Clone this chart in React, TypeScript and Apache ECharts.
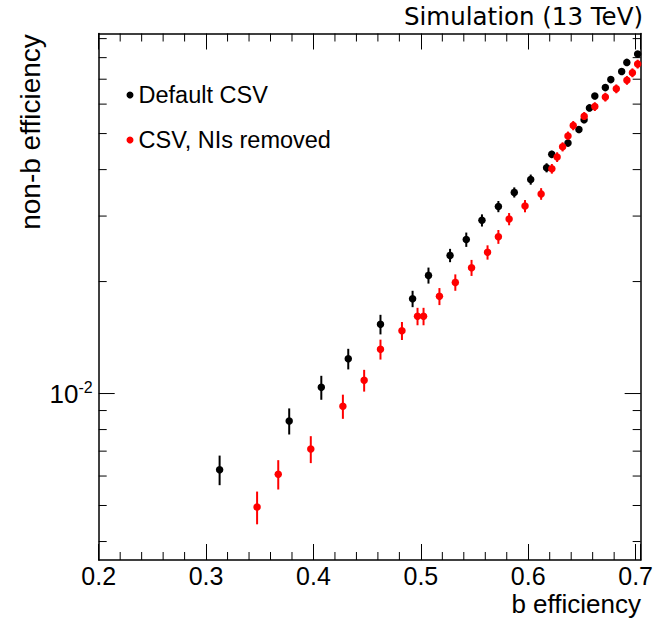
import React, { useEffect, useRef } from 'react';
import * as echarts from 'echarts';

const X_MIN = 0.2;
const X_MAX = 0.7047;
const Y_MIN = 0.003568;
const Y_MAX = 0.0929;

const defaultX = [0.3126, 0.3774, 0.4073, 0.4324, 0.4624, 0.4923, 0.5071, 0.5272, 0.5423, 0.5569, 0.5722, 0.587, 0.6023, 0.6171, 0.6219, 0.637, 0.6472, 0.652, 0.657, 0.662, 0.6718, 0.6769, 0.687, 0.6918, 0.7019];
const defaultY = [0.00624, 0.00844, 0.01039, 0.0124, 0.01535, 0.01798, 0.02078, 0.02352, 0.02594, 0.02922, 0.03183, 0.03474, 0.03761, 0.04046, 0.04396, 0.04714, 0.05126, 0.05445, 0.05861, 0.06306, 0.06646, 0.06983, 0.07346, 0.07768, 0.08177];
const defaultErr = [0.00057, 0.00068, 0.00077, 0.00079, 0.00093, 0.00091, 0.00103, 0.00097, 0.00115, 0.0011, 0.0011, 0.00109, 0.00118, 0.00114, 0.001, 0.001, 0.0011, 0.0011, 0.0012, 0.0012, 0.0013, 0.0013, 0.0014, 0.0014, 0.0015];

const removedX = [0.3475, 0.3672, 0.3975, 0.4274, 0.4472, 0.4624, 0.4824, 0.4969, 0.5025, 0.5173, 0.5321, 0.5472, 0.5621, 0.5722, 0.5822, 0.597, 0.612, 0.622, 0.6269, 0.632, 0.637, 0.6419, 0.6521, 0.662, 0.6718, 0.682, 0.6919, 0.697, 0.7019];
const removedY = [0.00495, 0.00607, 0.00709, 0.00924, 0.01085, 0.01315, 0.01475, 0.01613, 0.01613, 0.01825, 0.0199, 0.02179, 0.02397, 0.02639, 0.02945, 0.03192, 0.03442, 0.04021, 0.04323, 0.04606, 0.04922, 0.05253, 0.05563, 0.05909, 0.06266, 0.06597, 0.06953, 0.07286, 0.07688];
const removedErr = [0.0005, 0.00055, 0.00059, 0.00069, 0.00073, 0.00081, 0.00082, 0.00087, 0.00087, 0.00096, 0.00101, 0.00108, 0.00106, 0.00113, 0.00111, 0.00121, 0.00124, 0.0012, 0.0013, 0.0013, 0.0014, 0.0015, 0.0015, 0.0016, 0.0017, 0.0018, 0.0019, 0.002, 0.0021];

const xTickLabels = ['0.2', '0.3', '0.4', '0.5', '0.6', '0.7'];
const xMinorTicks = [0.22, 0.24, 0.26, 0.28, 0.32, 0.34, 0.36, 0.38, 0.42, 0.44, 0.46, 0.48, 0.52, 0.54, 0.56, 0.58, 0.62, 0.64, 0.66, 0.68];
const yMajorTicks = [0.01];
const yMinorTicks = [0.004, 0.005, 0.006, 0.007, 0.008, 0.009, 0.02, 0.03, 0.04, 0.05, 0.06, 0.07, 0.08, 0.09];

const seriesNames = ['Default CSV', 'CSV, NIs removed'];
const seriesColors = ['#000000', '#ff0000'];

const FONT = 'Liberation Sans';

function errorBarSeries(xs: number[], ys: number[], errs: number[], color: string) {
  return {
    type: 'custom',
    silent: true,
    z: 2,
    encode: { x: 0, y: [1, 2] },
    data: xs.map((x, i) => [x, ys[i] - errs[i], ys[i] + errs[i]]),
    renderItem: (params: any, api: any) => {
      const x = api.value(0);
      const p1 = api.coord([x, api.value(1)]);
      const p2 = api.coord([x, api.value(2)]);
      return {
        type: 'line',
        shape: { x1: p1[0], y1: p1[1], x2: p2[0], y2: p2[1] },
        style: { stroke: color, lineWidth: 2, opacity: 1 },
      };
    },
  };
}

function yTickSeries(ticks: number[], len: number) {
  return {
    type: 'custom',
    silent: true,
    z: 5,
    encode: { x: 0, y: 1 },
    data: ticks.map((v) => [X_MIN, v]),
    renderItem: (params: any, api: any) => {
      const v = api.value(1);
      const l = api.coord([X_MIN, v]);
      const r = api.coord([X_MAX, v]);
      return {
        type: 'group',
        children: [
          { type: 'line', shape: { x1: l[0], y1: l[1], x2: l[0] + len, y2: l[1] }, style: { stroke: '#000', lineWidth: 1 } },
          { type: 'line', shape: { x1: r[0] - len, y1: r[1], x2: r[0], y2: r[1] }, style: { stroke: '#000', lineWidth: 1 } },
        ],
      };
    },
  };
}

function xTickSeries(ticks: number[], len: number) {
  return {
    type: 'custom',
    silent: true,
    z: 5,
    encode: { x: 0, y: 1 },
    data: ticks.map((v) => [v, Y_MIN]),
    renderItem: (params: any, api: any) => {
      const v = api.value(0);
      const b = api.coord([v, Y_MIN]);
      const t = api.coord([v, Y_MAX]);
      return {
        type: 'group',
        children: [
          { type: 'line', shape: { x1: b[0], y1: b[1], x2: b[0], y2: b[1] - len }, style: { stroke: '#000', lineWidth: 1 } },
          { type: 'line', shape: { x1: t[0], y1: t[1], x2: t[0], y2: t[1] + len }, style: { stroke: '#000', lineWidth: 1 } },
        ],
      };
    },
  };
}

export default function App() {
  const ref = useRef<HTMLDivElement>(null);

  useEffect(() => {
    if (!ref.current) return;
    const chart = echarts.init(ref.current, null, { renderer: 'svg' });

    const axisLine = { show: true, onZero: false, lineStyle: { color: '#000', width: 1.5 } };
    const majorTick = { show: true, inside: true, length: 16, lineStyle: { color: '#000', width: 1 } };

    const xLabelFormatter = (v: number) => {
      const s = v.toFixed(1);
      return Math.abs(v * 10 - Math.round(v * 10)) < 1e-6 && xTickLabels.includes(s) ? s : '';
    };

    const yLabelFormatter = (v: number) => {
      const e = Math.log10(v);
      if (Math.abs(e - Math.round(e)) < 1e-6) return `{b|10}{s|${Math.round(e)}}`;
      return '';
    };

    chart.setOption({
      animation: false,
      backgroundColor: '#ffffff',
      grid: { left: 98.7, right: 12.7, top: 33.5, bottom: 59, containLabel: false },
      xAxis: [
        {
          type: 'value', position: 'bottom', min: X_MIN, max: X_MAX, interval: 0.1,
          axisLine, axisTick: majorTick, splitLine: { show: false },
          axisLabel: { show: true, formatter: xLabelFormatter, color: '#000', fontFamily: FONT, fontSize: 25, lineHeight: 22, margin: 5 },
        },
        {
          type: 'value', position: 'top', min: X_MIN, max: X_MAX, interval: 0.1,
          axisLine, axisTick: majorTick, splitLine: { show: false }, axisLabel: { show: false },
        },
      ],
      yAxis: [
        {
          type: 'log', logBase: 10, position: 'left', min: Y_MIN, max: Y_MAX,
          axisLine, axisTick: { show: false }, splitLine: { show: false }, minorTick: { show: false },
          axisLabel: {
            show: true, formatter: yLabelFormatter, margin: 6, color: '#000',
            rich: {
              b: { fontFamily: FONT, fontSize: 26, lineHeight: 28, color: '#000' },
              s: { fontFamily: FONT, fontSize: 16, lineHeight: 16, verticalAlign: 'top', color: '#000' },
            },
          },
        },
        {
          type: 'log', logBase: 10, position: 'right', min: Y_MIN, max: Y_MAX,
          axisLine, axisTick: { show: false }, splitLine: { show: false }, axisLabel: { show: false },
        },
      ],
      legend: {
        orient: 'vertical', left: 121.5, top: 78, padding: 5,
        itemWidth: 7, itemHeight: 7, itemGap: 21, icon: 'circle', selectedMode: false,
        textStyle: { fontFamily: FONT, fontSize: 23.5, color: '#000' },
        data: seriesNames.map((n) => ({ name: n, icon: 'circle' })),
      },
      graphic: [
        {
          type: 'text', x: 643, y: 16, silent: true,
          style: { text: 'Simulation (13 TeV)', fontFamily: 'DejaVu Sans', fontSize: 24.5, fill: '#000', align: 'right', textAlign: 'right', verticalAlign: 'middle', textVerticalAlign: 'middle' },
        },
        {
          type: 'text', x: 641, y: 604, silent: true,
          style: { text: 'b efficiency', fontFamily: FONT, fontSize: 26, lineHeight: 24, fill: '#000', align: 'right', textAlign: 'right', verticalAlign: 'middle', textVerticalAlign: 'middle' },
        },
        {
          type: 'text', x: 30, y: 132, rotation: Math.PI / 2, silent: true,
          style: { text: 'non-b efficiency', fontFamily: FONT, fontSize: 28, fill: '#000', align: 'center', textAlign: 'center', verticalAlign: 'middle', textVerticalAlign: 'middle' },
        },
      ],
      series: [
        xTickSeries(xMinorTicks, 8),
        yTickSeries(yMajorTicks, 16),
        yTickSeries(yMinorTicks, 8),
        errorBarSeries(defaultX, defaultY, defaultErr, seriesColors[0]),
        errorBarSeries(removedX, removedY, removedErr, seriesColors[1]),
        {
          name: seriesNames[0], type: 'scatter', symbol: 'circle', symbolSize: 7.5, z: 3,
          itemStyle: { color: seriesColors[0], opacity: 1 },
          data: defaultX.map((x, i) => [x, defaultY[i]]),
        },
        {
          name: seriesNames[1], type: 'scatter', symbol: 'circle', symbolSize: 7.5, z: 4,
          itemStyle: { color: seriesColors[1], opacity: 1 },
          data: removedX.map((x, i) => [x, removedY[i]]),
        },
      ],
    });

    return () => chart.dispose();
  }, []);

  return (
    <div
      ref={ref}
      style={{ position: 'absolute', left: 0, top: 0, width: 656, height: 619, background: '#fff' }}
    />
  );
}
